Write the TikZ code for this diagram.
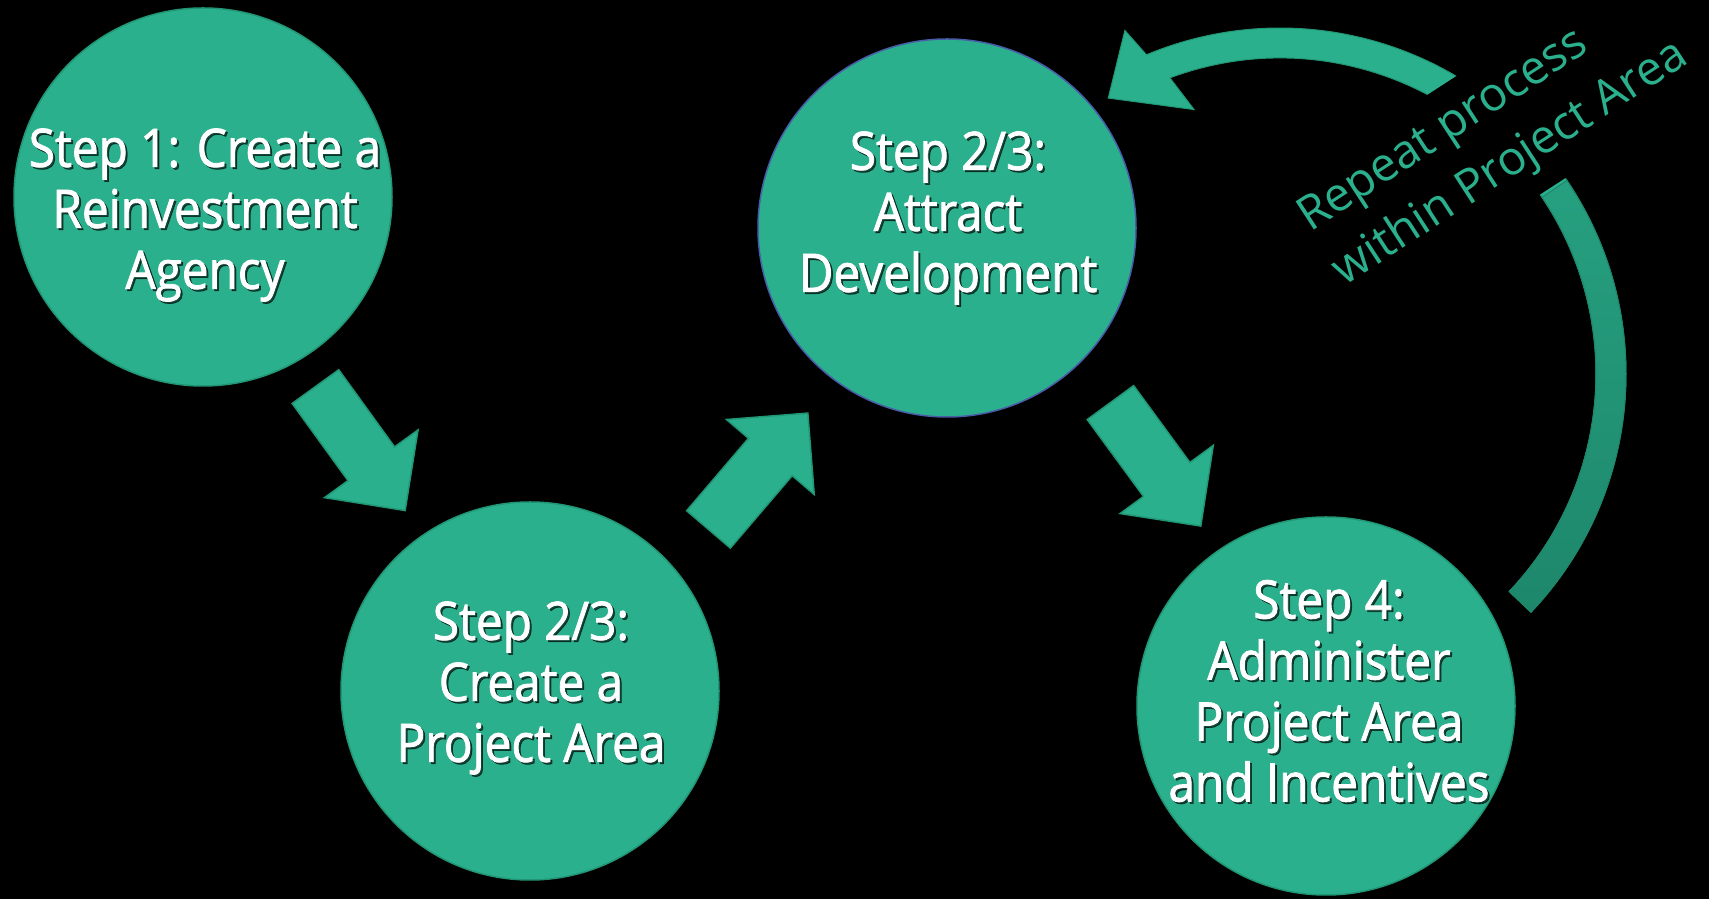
\documentclass[tikz,border=0pt]{standalone}
\usepackage{fontspec}
\setmainfont{Open Sans}[FakeStretch=0.9,FakeBold=1.5]
\newfontfamily\notefont{Open Sans}
\usetikzlibrary{shapes.arrows,calc}

\definecolor{stepgreen}{RGB}{43,176,142}
\definecolor{stepedge}{RGB}{33,150,117}
\definecolor{loopmid}{RGB}{38,160,128}
\definecolor{loopdark}{RGB}{30,135,107}
\definecolor{ringblue}{RGB}{72,92,168}

\tikzset{
  stepcircle/.style={circle,fill=stepgreen,draw=stepedge,line width=1.5pt,
    minimum size=378pt,inner sep=0pt},
  steptext/.style={align=center,text=white,font=\fontsize{53}{61}\selectfont},
  stepshadow/.style={steptext,text=black,text opacity=0.6},
  blockarrow/.style={single arrow,fill=stepgreen,draw=stepedge,line width=1.5pt,
    inner xsep=0pt,inner ysep=28pt,minimum width=114pt,minimum height=153pt,
    single arrow head extend=29pt,anchor=tail},
  looplabel/.style={align=left,text=stepgreen,fill=black,inner xsep=10pt,
    inner ysep=18pt,font=\notefont\fontsize{47}{64}\selectfont},
}

% text with a soft drop shadow, placed relative to its circle
\newcommand\steplabel[4]{%
  \node[stepshadow] at ($(#1)+(#2+2,#3-2)$) {#4};
  \node[steptext] (#1-text) at ($(#1)+(#2,#3)$) {#4};}

\begin{document}
\begin{tikzpicture}[x=1pt,y=1pt]
  \fill[black] (0,0) rectangle (1709,899);
  \useasboundingbox (0,0) rectangle (1709,899);

  % steps
  \node[stepcircle] (s1) at (203,702) {};
  \node[stepcircle] (s2) at (530,208) {};
  \node[stepcircle,draw=ringblue] (s3) at (947,671) {};
  \node[stepcircle] (s4) at (1326,193) {};

  \steplabel{s1}{2}{-18}{Step 1: Create a\\Reinvestment\\Agency}
  \steplabel{s2}{1}{3}{Step 2/3:\\Create a\\Project Area}
  \steplabel{s3}{1}{10}{Step 2/3:\\Attract\\Development}
  \steplabel{s4}{3}{15}{Step 4:\\Administer\\Project Area\\and Incentives}

  % arrows between the steps (placed by their tails)
  \node[blockarrow,rotate=-54.1] (a12) at (315,513) {};
  \node[blockarrow,rotate=49.5] (a23) at (708,369) {};
  \node[blockarrow,rotate=-53.8] (a34) at (1110,497) {};

  % loop back from step 4
  \begin{scope}[shift={(1280,525)}]
    \fill[stepgreen,draw=stepedge,line width=1pt]
      (-43.5:346) arc[start angle=-43.5,end angle=112.7,radius=346]
      -- (114.3:377) -- (121.9:325) -- (108:278) -- (110.4:316)
      arc[start angle=110.4,end angle=-43.5,radius=316] -- cycle;
    \shade[top color=loopmid,bottom color=loopdark,draw=loopdark,line width=1pt]
      (-43.5:346) arc[start angle=-43.5,end angle=34,radius=346]
      -- (34:316) arc[start angle=34,end angle=-43.5,radius=316] -- cycle;
  \end{scope}
  \node[looplabel,rotate=33] (loop) at (1494,761) {Repeat process\\within Project Area};
\end{tikzpicture}
\end{document}
